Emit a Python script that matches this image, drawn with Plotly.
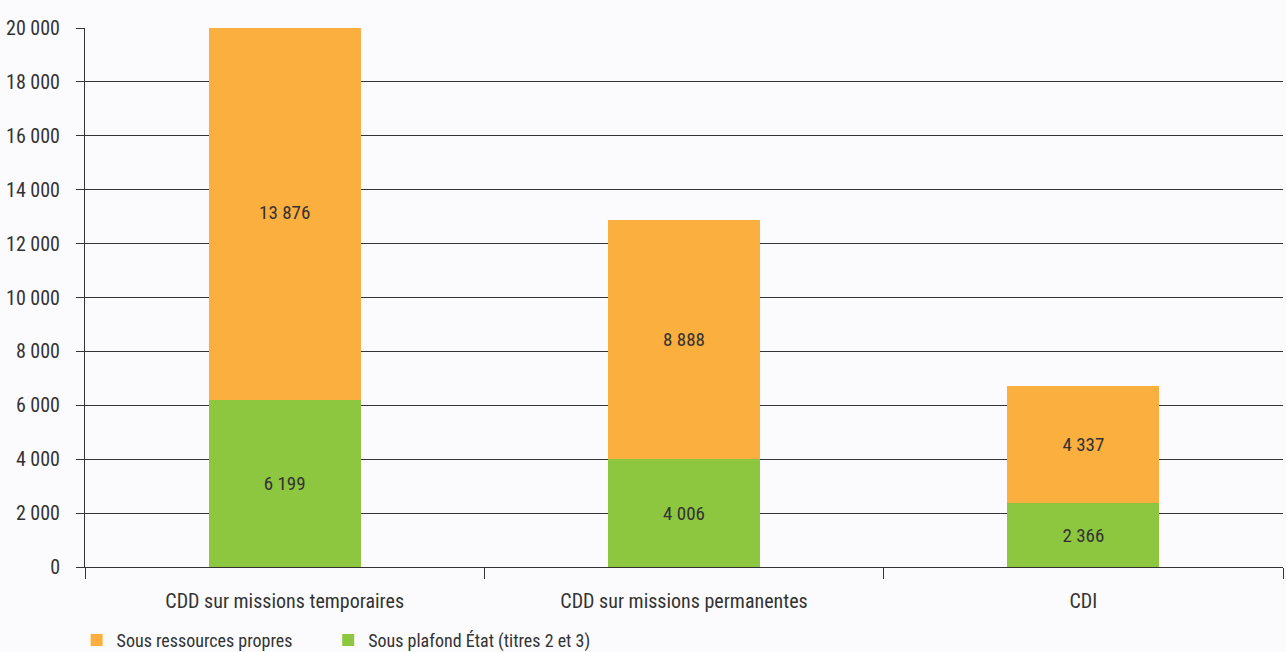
import plotly.graph_objects as go

categories = ["CDD sur missions temporaires", "CDD sur missions permanentes", "CDI"]
etat = [6199, 4006, 2366]
propres = [13876, 8888, 4337]
y_ticks = [0, 2000, 4000, 6000, 8000, 10000, 12000, 14000, 16000, 18000, 20000]
y_labels = ["0", "2 000", "4 000", "6 000", "8 000", "10 000", "12 000", "14 000", "16 000", "18 000", "20 000"]

FONT = "Roboto Condensed, Liberation Sans Narrow, Roboto, Arial Narrow, sans-serif"

def fmt(v):
    return f"{v:,}".replace(",", " ")

fig = go.Figure()
fig.add_trace(go.Bar(
    x=categories, y=etat, name="Sous plafond État (titres 2 et 3)",
    marker=dict(color="#8dc63f", line=dict(width=0)),
    text=[fmt(v) for v in etat], textposition="inside", insidetextanchor="middle",
    textfont=dict(color="#333333", size=19, family=FONT), width=0.38,
    legend="legend2",
))
fig.add_trace(go.Bar(
    x=categories, y=propres, name="Sous ressources propres",
    marker=dict(color="#fbaf3f", line=dict(width=0)),
    text=[fmt(v) for v in propres], textposition="inside", insidetextanchor="middle",
    textfont=dict(color="#333333", size=19, family=FONT), width=0.38,
    legend="legend",
))

legend_common = dict(orientation="h", yref="container", y=0.018, yanchor="middle",
                     xanchor="left", font=dict(size=18, color="#333333"),
                     bgcolor="rgba(0,0,0,0)")

fig.update_layout(
    barmode="stack",
    width=1286, height=652,
    margin=dict(l=85, r=3, t=28, b=85),
    paper_bgcolor="#fbfbfd", plot_bgcolor="#fbfbfd",
    font=dict(family=FONT, size=19, color="#333333"),
    showlegend=True,
    legend=dict(x=-0.007, **legend_common),
    legend2=dict(x=0.203, **legend_common),
    uniformtext=dict(minsize=10, mode="show"),
)
fig.update_yaxes(
    range=[0, 20000], tickvals=y_ticks, ticktext=y_labels,
    showgrid=True, gridcolor="#333333", gridwidth=1,
    showline=True, linecolor="#333333", linewidth=1,
    ticks="outside", ticklen=8, tickcolor="#333333", ticklabelstandoff=12,
    zeroline=False, tickfont=dict(size=20), fixedrange=True, automargin=False,
)
fig.update_xaxes(
    showline=True, linecolor="#333333", linewidth=1,
    ticks="outside", ticklen=11, tickcolor="#333333", tickson="boundaries",
    ticklabelstandoff=16,
    tickfont=dict(size=20), showgrid=False, automargin=False,
)

fig.write_html("out.html", config={"displayModeBar": False},
               post_script="document.body.style.margin='0';document.body.style.background='#fbfbfd';")
